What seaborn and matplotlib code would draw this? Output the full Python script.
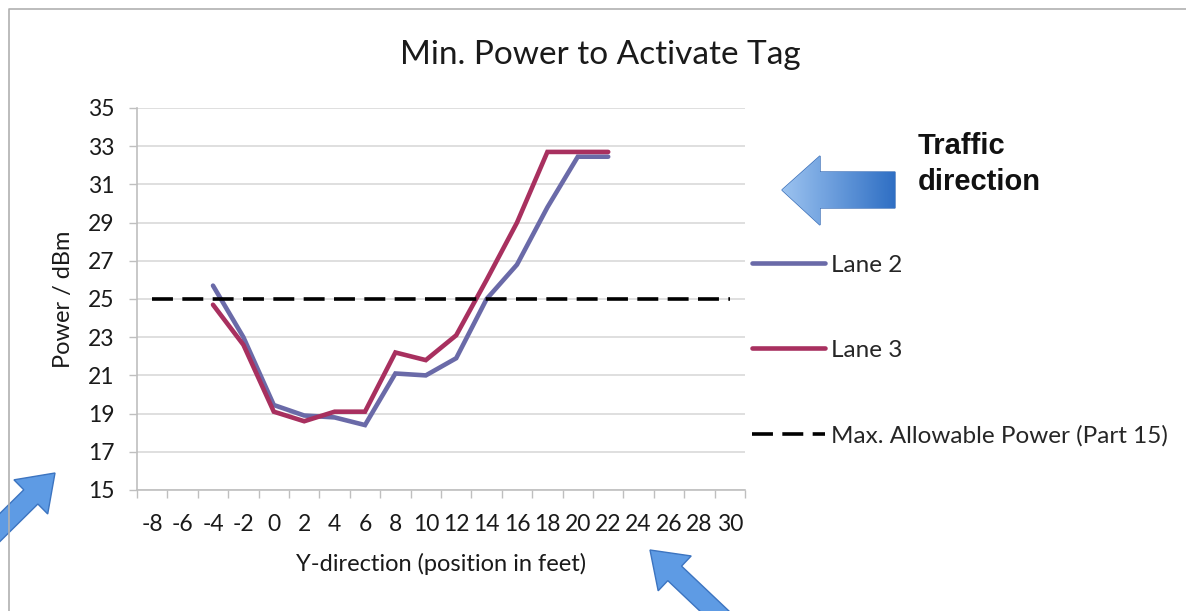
import numpy as np
import pandas as pd
import matplotlib.pyplot as plt
import seaborn as sns
from matplotlib.patches import Polygon, FancyArrow

# data
positions = [-4, -2, 0, 2, 4, 6, 8, 10, 12, 14, 16, 18, 20, 22]
lane2 = [25.7, 23.0, 19.45, 18.9, 18.8, 18.4, 21.1, 21.0, 21.9, 25.0, 26.8, 29.8, 32.45, 32.45]
lane3 = [24.7, 22.6, 19.1, 18.6, 19.1, 19.1, 22.2, 21.8, 23.1, 26.0, 29.0, 32.7, 32.7, 32.7]
x_categories = list(range(-8, 31, 2))
max_power = [25.0] * len(x_categories)
y_ticks = list(range(15, 36, 2))

df = pd.DataFrame({
    'position': positions * 2,
    'power': lane2 + lane3,
    'lane': ['Lane 2'] * len(positions) + ['Lane 3'] * len(positions),
})
limit = pd.DataFrame({'position': x_categories, 'power': max_power})

sns.set_theme(style="white")
plt.rcParams['font.family'] = ['Lato', 'DejaVu Sans']

W, H = 1186, 611
fig = plt.figure(figsize=(W / 100, H / 100), dpi=100)
ax = fig.add_axes([137 / W, 1 - 490 / H, (745 - 137) / W, (490 - 108) / H])

grey = '#BFBFBF'
txt = '#1a1a1a'
colors = {'Lane 2': '#6A6AA8', 'Lane 3': '#A8305F'}

sns.lineplot(data=df[df.lane == 'Lane 2'], x='position', y='power', color=colors['Lane 2'],
             lw=3.3, label='Lane 2', ax=ax, solid_joinstyle='miter')
sns.lineplot(data=df[df.lane == 'Lane 3'], x='position', y='power', color=colors['Lane 3'],
             lw=3.3, label='Lane 3', ax=ax, solid_joinstyle='miter')
sns.lineplot(data=limit, x='position', y='power', color='black', lw=2.6,
             label='Max. Allowable Power (Part 15)', ax=ax)
ax.get_lines()[-1].set_dashes([5.8, 2.6])

ax.set_xlim(-9, 31)
ax.set_ylim(15, 35)
ax.set_xticks(x_categories)
ax.set_xticklabels([str(v) for v in x_categories], fontsize=16.5)
ax.set_xticks(np.arange(-9, 32, 2), minor=True)
ax.set_yticks(y_ticks)
ax.set_yticklabels([str(v) for v in y_ticks], fontsize=16.5)
ax.tick_params(axis='x', which='major', length=0, pad=17, colors=txt)
ax.tick_params(axis='x', which='minor', length=6, width=1, color=grey, direction='out', bottom=True)
ax.tick_params(axis='y', which='major', length=6, width=1, color=grey, direction='out', left=True,
               pad=10, labelcolor=txt)
ax.grid(axis='y', color='#D9D9D9', lw=1.2)
ax.set_axisbelow(True)
for s in ['top', 'right']:
    ax.spines[s].set_visible(False)
for s in ['left', 'bottom']:
    ax.spines[s].set_color(grey)
    ax.spines[s].set_linewidth(1.2)

ax.set_xlabel('Y-direction (position in feet)', fontsize=17, color=txt, labelpad=13)
ax.set_ylabel('Power / dBm', fontsize=17, color=txt, labelpad=10)
fig.text(600 / W, 1 - 55 / H, 'Min. Power to Activate Tag', fontsize=24, color=txt,
         ha='center', va='center')

ax.legend(loc='center left', bbox_to_anchor=(752 / W, 1 - 350.5 / H), bbox_transform=fig.transFigure,
          frameon=False, fontsize=17.5, handlelength=3.0, handletextpad=0.25, labelspacing=2.64,
          borderpad=0, borderaxespad=0)

# overlay in pixel coordinates for the slide decorations
ov = fig.add_axes([0, 0, 1, 1], facecolor='none')
ov.set_xlim(0, W)
ov.set_ylim(H, 0)
ov.axis('off')

ov.plot([9, 9, W], [H, 9, 9], color='#B0B0B0', lw=1.2)

ov.text(918, 164, 'Traffic\ndirection', fontsize=21, fontweight='bold', family='Liberation Sans',
        va='center', ha='left', linespacing=1.33, color='#111111')

# big left arrow with gradient
arrow_pts = [(782, 190), (820, 156), (820, 172), (895, 172), (895, 208), (820, 208), (820, 225)]
poly = Polygon(arrow_pts, closed=True, facecolor='none', edgecolor='#3C70B8', lw=1.0)
ov.add_patch(poly)
grad = np.linspace(0, 1, 256).reshape(1, -1)
img = ov.imshow(grad, extent=(782, 895, 225, 156), cmap=sns.blend_palette(['#9CC3F0', '#2F6FC4'], as_cmap=True),
                aspect='auto', zorder=1)
img.set_clip_path(poly)
ov.set_xlim(0, W)
ov.set_ylim(H, 0)

# partial arrows at the bottom
for (x0, y0, x1, y1) in [(-35, 562, 55, 473), (745, 640, 650, 550)]:
    dx, dy = x1 - x0, y1 - y0
    ov.add_patch(FancyArrow(x0, y0, dx, dy, width=20, head_width=48, head_length=34,
                            length_includes_head=True, facecolor='#5E9BE4', edgecolor='#3C74C0', lw=1.0))

fig.savefig('out.png', dpi=100)
